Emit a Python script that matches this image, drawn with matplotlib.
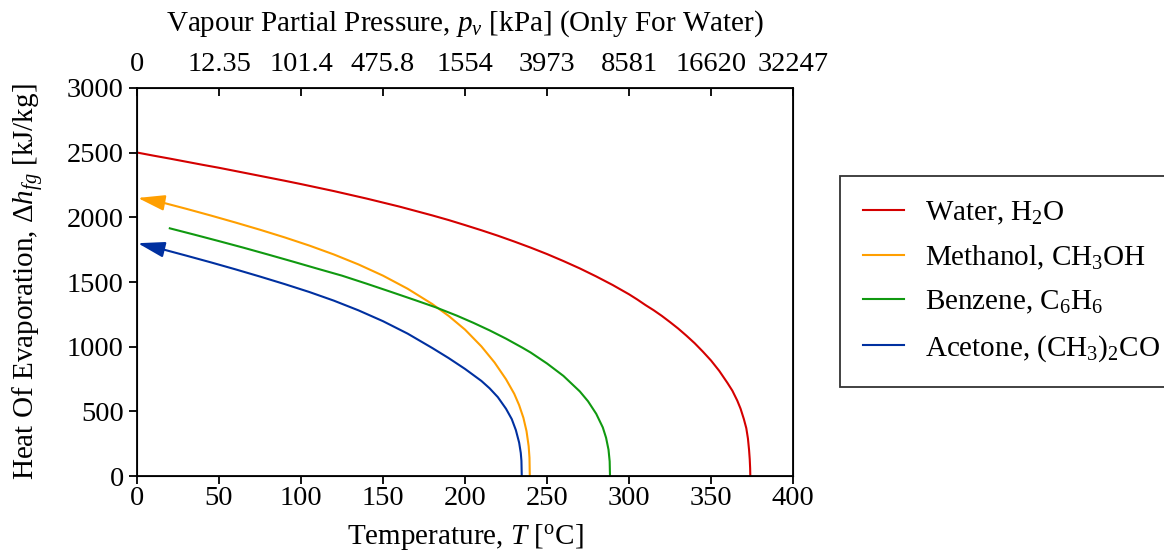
import numpy as np
import matplotlib
matplotlib.use("Agg")
import matplotlib.pyplot as plt

plt.rcParams['font.family'] = ['Liberation Serif', 'DejaVu Serif']
plt.rcParams['mathtext.fontset'] = 'custom'
plt.rcParams['mathtext.rm'] = 'Liberation Serif'
plt.rcParams['mathtext.it'] = 'Liberation Serif:italic'
plt.rcParams['mathtext.bf'] = 'Liberation Serif:bold'

# valores (T en C, hfg en kJ/kg)
water_T = [0, 10, 20, 30, 40, 50, 60, 70, 80, 90, 100, 110, 120, 130, 140, 150,
           160, 170, 180, 190, 200, 210, 220, 230, 240, 250, 260, 270, 280, 290,
           300, 305, 310, 315, 320, 325, 330, 335, 340, 345, 350, 355, 360, 363,
           366, 368, 370, 371.5, 372.5, 373.2, 373.6, 373.85, 373.95]
water_h = [2501, 2477, 2454, 2430, 2406, 2383, 2358, 2333, 2308, 2283, 2257,
           2230, 2203, 2174, 2145, 2114, 2083, 2049, 2015, 1979, 1940, 1900,
           1858, 1813, 1766, 1716, 1662, 1605, 1543, 1477, 1405, 1365, 1322,
           1282, 1238, 1190, 1140, 1085, 1027, 962, 893, 813, 720, 660, 583,
           521, 441, 370, 290, 200, 130, 60, 0]

methanol_T = [15, 30, 45, 60, 75, 90, 105, 120, 135, 150, 165, 180, 190, 200,
              210, 218, 225, 230, 233, 235.6, 237.5, 238.8, 239.3, 239.5]
methanol_h = [2116, 2066, 2014, 1960, 1904, 1845, 1782, 1713, 1636, 1549, 1448,
              1330, 1238, 1132, 1002, 878, 748, 636, 548, 450, 347, 231, 142, 0]

benzene_T = [20, 35, 50, 65, 80, 95, 110, 125, 140, 155, 170, 182, 195, 205,
             215, 225, 235, 240, 250, 260, 270, 275, 280, 284, 286, 287.5,
             288.2, 288.4]
benzene_h = [1915, 1866, 1816, 1765, 1712, 1658, 1603, 1549, 1487, 1423, 1358,
             1305, 1240, 1185, 1126, 1062, 992, 955, 870, 774, 654, 578, 481,
             376, 296, 203, 113, 0]

acetone_T = [15, 30, 45, 60, 75, 90, 105, 120, 135, 150, 165, 180, 190, 200,
             210, 215, 220, 225, 228.5, 231, 233, 234, 234.4, 234.6]
acetone_h = [1755, 1704, 1652, 1598, 1542, 1484, 1423, 1356, 1281, 1197, 1101,
             990, 912, 828, 735, 678, 610, 520, 440, 355, 258, 178, 117, 0]

# puntas de flecha (extrapolacion a 0 C)
methanol_tip = (0.5, 2150)
acetone_tip = (0.5, 1800)

temp_ticks = [0, 50, 100, 150, 200, 250, 300, 350, 400]
pressure_labels = ['0', '12.35', '101.4', '475.8', '1554', '3973', '8581',
                   '16620', '32247']

C_WATER = '#d40000'
C_METH = '#ff9f00'
C_BENZ = '#109910'
C_ACET = '#0030a0'

fig = plt.figure(figsize=(11.64, 5.53), dpi=100)
ax = fig.add_axes([0.1177, 0.1392, 0.5636, 0.7017])

lw = 1.5
ax.plot(water_T, water_h, color=C_WATER, lw=lw, label=r'Water, H$_2$O')
ax.plot(methanol_T, methanol_h, color=C_METH, lw=lw, label=r'Methanol, CH$_3$OH')
ax.plot(benzene_T, benzene_h, color=C_BENZ, lw=lw, label=r'Benzene, C$_6$H$_6$')
ax.plot(acetone_T, acetone_h, color=C_ACET, lw=lw, label=r'Acetone, (CH$_3$)$_2$CO')

for T, h, tip, c in [(methanol_T, methanol_h, methanol_tip, C_METH),
                     (acetone_T, acetone_h, acetone_tip, C_ACET)]:
    ax.annotate('', xy=tip, xytext=(T[0], h[0]),
                arrowprops=dict(arrowstyle='-|>,head_length=1.65,head_width=0.48',
                                mutation_scale=10, color=c, lw=lw,
                                shrinkA=0, shrinkB=0))

ax.set_xlim(0, 400)
ax.set_ylim(0, 3000)
ax.set_xticks(temp_ticks)
ax.set_yticks(np.arange(0, 3001, 500))
ax.tick_params(axis='both', labelsize=20.5, direction='out', length=6, width=1.3)
ax.tick_params(axis='x', pad=1)
ax.set_xlabel(r'Temperature, $T$ [$^\mathrm{o}$C]', fontsize=21, labelpad=8)
ax.set_ylabel(r'Heat Of Evaporation, $\Delta h_{fg}$ [kJ/kg]', fontsize=21, labelpad=15)
for s in ax.spines.values():
    s.set_linewidth(1.3)

top = ax.twiny()
top.set_xlim(ax.get_xlim())
top.set_xticks(temp_ticks)
top.set_xticklabels(pressure_labels)
top.tick_params(axis='x', labelsize=20.5, direction='in', length=6, width=1.3, pad=8)
top.set_xlabel(r'Vapour Partial Pressure, $p_v$ [kPa] (Only For Water)', fontsize=21, labelpad=15)

leg = ax.legend(loc='center left', bbox_to_anchor=(0.7216, 0.491),
                bbox_transform=fig.transFigure, fontsize=21, frameon=True,
                fancybox=False, edgecolor='black', handlelength=1.4,
                handletextpad=0.7, borderpad=0.8, labelspacing=0.58,
                borderaxespad=0)
leg.get_frame().set_linewidth(1.3)

fig.savefig('out.png', dpi=100)
